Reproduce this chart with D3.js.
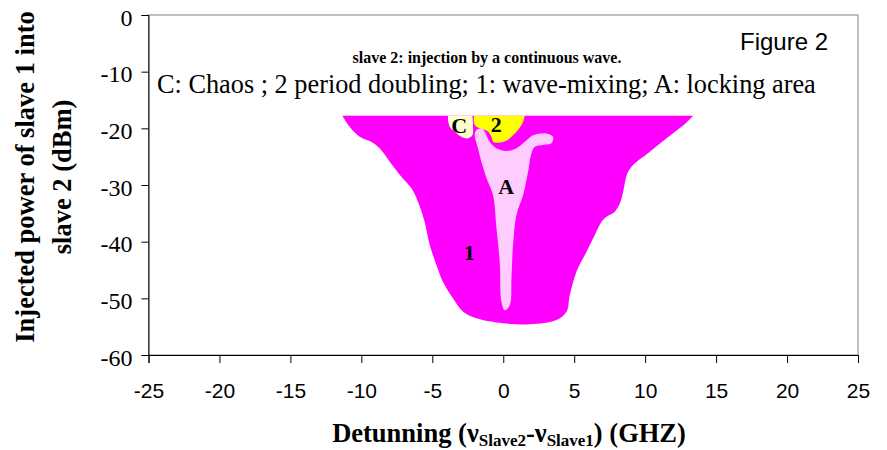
<!DOCTYPE html>
<html><head><meta charset="utf-8">
<script src="https://cdn.jsdelivr.net/npm/d3@7"></script>
<style>
html,body{margin:0;padding:0;background:#fff;}
svg{display:block;}
</style></head>
<body>
<svg id="chart" width="887" height="450"></svg>
<script>
// ---- data (detuning GHz, injected power dBm) ----
const xTicks = [-25,-20,-15,-10,-5,0,5,10,15,20,25];
const yTicks = [0,-10,-20,-30,-40,-50,-60];

// region 1: wave-mixing (magenta), outline from top-left round to top-right
const waveMixing = [[-11.34,-17.8],[-10.83,-19.71],[-10.12,-21.47],[-9.30,-22.36],[-8.71,-23.53],[-8.0,-25.88],[-7.18,-28.53],[-6.47,-30.59],[-6.01,-32.94],[-5.54,-36.47],[-5.18,-40.58],[-4.71,-44.11],[-4.25,-47.06],[-3.54,-50.0],[-2.83,-52.36],[-1.89,-53.52],[0,-54.4],[1.87,-54.58],[3.75,-53.82],[4.46,-52.36],[4.69,-49.41],[5.16,-45.3],[5.87,-41.77],[6.45,-38.82],[6.93,-36.47],[7.28,-35.59],[7.86,-34.71],[8.22,-33.23],[8.45,-31.18],[8.64,-28.82],[8.80,-27.65],[9.15,-26.47],[10.33,-24.12],[11.51,-21.76],[12.86,-19.11],[13.39,-17.8]];
// region 2: period doubling (yellow)
const periodDoubling = [[1.52,-17.8],[1.40,-18.82],[1.04,-20.29],[0.58,-21.47],[0.22,-22.18],[-0.37,-22.53],[-0.72,-22.36],[-0.83,-21.47],[-1.07,-20.59],[-1.42,-20.18],[-1.89,-19.71],[-2.06,-19.12],[-2.06,-17.8]];
// region C: chaos (cream)
const chaos = [[-3.89,-17.8],[-3.89,-18.53],[-3.77,-19.71],[-3.42,-20.59],[-2.95,-21.47],[-2.48,-21.76],[-2.17,-21.18],[-2.13,-19.71],[-2.17,-17.8]];
// region A: locking area (light pink), closed outline
const locking = [[0.1,-52.1],[-0.13,-50.6],[-0.25,-43.5],[-0.48,-37.6],[-0.72,-31.8],[-1.18,-28.8],[-1.54,-25.9],[-1.78,-23.5],[-2.01,-21.2],[-1.89,-20.3],[-1.54,-20.0],[-1.30,-20.6],[-0.95,-22.4],[-0.48,-23.5],[0.22,-24.0],[0.93,-23.5],[1.64,-22.1],[2.10,-21.2],[3.05,-20.9],[3.51,-21.5],[3.40,-22.65],[2.81,-22.94],[2.22,-23.24],[1.99,-24.4],[1.75,-27.65],[1.40,-31.76],[0.93,-35.3],[0.69,-40.6],[0.58,-46.5],[0.46,-51.2]];

const regionLabels = ["C","2","A","1"];
const regionLabelPos = [[-3.1,-20.9],[-0.5,-20.7],[0.2,-31.6],[-2.4,-43.2]];

const titleText = "slave 2: injection by a continuous wave.";
const legendText = "C: Chaos ; 2 period doubling; 1: wave-mixing; A: locking area";
const figureText = "Figure 2";
const yTitleLines = ["Injected power of slave 1 into","slave 2 (dBm)"];

// ---- drawing ----
const svg = d3.select("#chart");
const serif = "'Liberation Serif','Times New Roman',serif";
const sans = "'Liberation Sans',Arial,sans-serif";

const x = d3.scaleLinear().domain([-25,25]).range([148.5,858]);
const y = d3.scaleLinear().domain([-60,0]).range([355,15]);

// plot frame
svg.append("rect").attr("x",x(-25)).attr("y",y(0))
  .attr("width",x(25)-x(-25)).attr("height",y(-60)-y(0))
  .attr("fill","none").attr("stroke","#808080").attr("stroke-width",1);

const openLine = d3.line().x(d=>x(d[0])).y(d=>y(d[1])).curve(d3.curveCatmullRom.alpha(0.5));
const closedLine = d3.line().x(d=>x(d[0])).y(d=>y(d[1])).curve(d3.curveCatmullRomClosed.alpha(0.5));

svg.append("path").attr("d", openLine(waveMixing)+"Z").attr("fill","#FF00FF");
svg.append("path").attr("d", openLine(periodDoubling)+"Z").attr("fill","#FFFF00");
svg.append("path").attr("d", openLine(chaos)+"Z").attr("fill","#FFFFCC");
svg.append("path").attr("d", closedLine(locking)).attr("fill","#FFCCFF");

svg.selectAll("text.region").data(regionLabels).enter().append("text")
  .attr("class","region")
  .attr("x",(d,i)=>x(regionLabelPos[i][0])).attr("y",(d,i)=>y(regionLabelPos[i][1]))
  .attr("text-anchor","middle")
  .attr("font-family",serif).attr("font-weight","bold").attr("font-size",22)
  .text(d=>d);

// axes
const xAxis = svg.append("g").attr("transform",`translate(0,${y(-60)})`)
  .call(d3.axisBottom(x).tickValues(xTicks).tickFormat(d=>String(d)).tickSizeOuter(0).tickSize(8).tickPadding(20));
xAxis.selectAll("text").attr("font-family",sans).attr("font-size",21).attr("fill","#000");
xAxis.selectAll("line,path").attr("stroke","#000");

const yAxis = svg.append("g").attr("transform",`translate(${x(-25)},0)`)
  .call(d3.axisLeft(y).tickValues(yTicks).tickFormat(d=>String(d)).tickSizeOuter(0).tickSize(7).tickPadding(9));
yAxis.selectAll("text").attr("font-family",serif).attr("font-size",24).attr("fill","#000").attr("dy","0.42em");
yAxis.selectAll("line,path").attr("stroke","#000");

// texts
svg.append("text").attr("x",487).attr("y",63)
  .attr("text-anchor","middle").attr("font-family",serif).attr("font-weight","bold").attr("font-size",16)
  .text(titleText);
svg.append("text").attr("x",157).attr("y",93)
  .attr("font-family",serif).attr("font-size",26.3)
  .text(legendText);
svg.append("text").attr("x",740).attr("y",50)
  .attr("font-family",sans).attr("font-size",24)
  .text(figureText);

// y title
svg.selectAll("text.ytitle").data(yTitleLines).enter().append("text")
  .attr("class","ytitle")
  .attr("transform",(d,i)=>`translate(${i===0?33.5:70.5},177) rotate(-90)`)
  .attr("text-anchor","middle")
  .attr("font-family",serif).attr("font-weight","bold").attr("font-size",26.5)
  .text(d=>d);

// x title with subscripts
const xt = svg.append("text").attr("x",509).attr("y",442)
  .attr("text-anchor","middle").attr("font-family",serif).attr("font-weight","bold").attr("font-size",26.5);
xt.append("tspan").text("Detunning (\u03BD");
xt.append("tspan").attr("font-size",17).attr("dy",4).text("Slave2");
xt.append("tspan").attr("dy",-4).text("-\u03BD");
xt.append("tspan").attr("font-size",17).attr("dy",4).text("Slave1");
xt.append("tspan").attr("dy",-4).text(") (GHZ)");
</script>
</body></html>
